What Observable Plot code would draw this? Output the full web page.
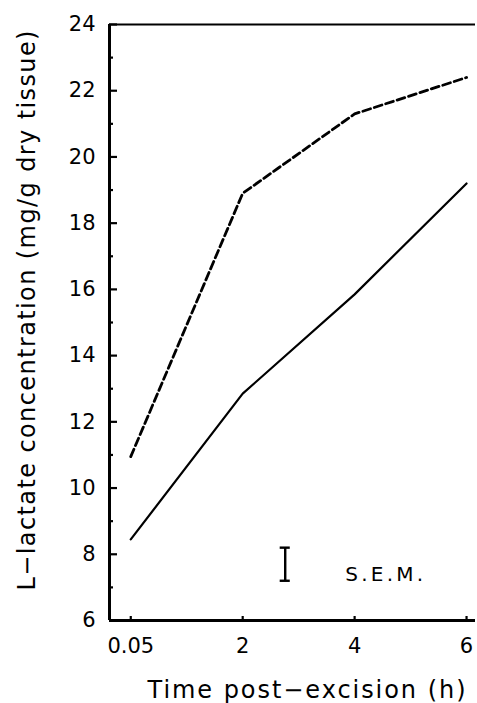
<!DOCTYPE html>
<html><head><meta charset="utf-8">
<script src="https://cdn.jsdelivr.net/npm/d3@7"></script>
<script src="https://cdn.jsdelivr.net/npm/@observablehq/plot@0.6"></script>
<style>
body{margin:0;background:#fff}
svg{display:block}
</style>
</head><body><div id="chart"></div>
<script>
// Data
const timeLabels = ["0.05", "2", "4", "6"];
const solidValues = [8.45, 12.85, 15.85, 19.2];
const dashedValues = [10.95, 18.9, 21.3, 22.4];
const yMajorTicks = [6, 8, 10, 12, 14, 16, 18, 20, 22, 24];
const yMinorTicks = [7, 9, 11, 13, 15, 17, 19, 21, 23];
const semPosition = 1.38;      // between "2" and "4" on the index axis
const semLow = 7.2;
const semHigh = 8.2;
const semCap = 0.045;
const semLabel = "S.E.M.";
const xTitle = "Time post\u2212excision (h)";
const yTitle = "L\u2212lactate concentration (mg/g dry tissue)";

const xDomain = [-0.19, 3.08];
const yDomain = [6, 24];
const idx = timeLabels.map((_, i) => i);

const solid = idx.map(i => ({x: i, y: solidValues[i]}));
const dashed = idx.map(i => ({x: i, y: dashedValues[i]}));

const chart = Plot.plot({
  width: 477,
  height: 703,
  marginLeft: 109,
  marginRight: 2,
  marginTop: 24,
  marginBottom: 83,
  style: {fontFamily: "'DejaVu Sans', sans-serif", background: "#fff", color: "#000"},
  x: {domain: xDomain, axis: null},
  y: {domain: yDomain, axis: null},
  marks: [
    // frame lines
    Plot.ruleX([xDomain[0]], {y1: yDomain[0], y2: yDomain[1], stroke: "#000", strokeWidth: 3}),
    Plot.ruleY([yDomain[0]], {stroke: "#000", strokeWidth: 3}),
    Plot.ruleY([yDomain[1]], {stroke: "#000", strokeWidth: 2.2}),
    // y ticks (inward) and labels
    Plot.axisY(yMajorTicks, {anchor: "left", tickSize: -8, strokeWidth: 2.2, fill: "none", label: null}),
    Plot.axisY(yMinorTicks, {anchor: "left", tickSize: -4, strokeWidth: 2.2, fill: "none", label: null}),
    Plot.axisY(yMajorTicks, {anchor: "left", tickSize: 0, tickPadding: 14, fontSize: 21, fill: "#000", label: null}),
    // x ticks (inward) and labels
    Plot.axisX(idx, {anchor: "bottom", tickSize: -4, strokeWidth: 2.2, fill: "none", label: null}),
    Plot.axisX(idx, {anchor: "bottom", tickSize: 0, tickPadding: 18, fontSize: 21, fill: "#000", label: null, tickFormat: i => timeLabels[i]}),
    // series
    Plot.line(dashed, {x: "x", y: "y", stroke: "#000", strokeWidth: 2.8, strokeDasharray: "8,4"}),
    Plot.line(solid, {x: "x", y: "y", stroke: "#000", strokeWidth: 2.2}),
    // S.E.M. bar
    Plot.ruleX([semPosition], {y1: semLow, y2: semHigh, stroke: "#000", strokeWidth: 2.4}),
    Plot.ruleY([semLow, semHigh], {x1: semPosition - semCap, x2: semPosition + semCap, stroke: "#000", strokeWidth: 2.4}),
    Plot.text([semLabel], {x: semPosition, y: semLow, dx: 60, textAnchor: "start", lineAnchor: "bottom", fontSize: 20, fill: "#000"}),
    // titles
    Plot.text([xTitle], {frameAnchor: "bottom", textAnchor: "middle", lineAnchor: "middle", dx: 14, dy: 70, fontSize: 24, fill: "#000"}),
    Plot.text([yTitle], {frameAnchor: "left", textAnchor: "middle", lineAnchor: "middle", rotate: -90, dx: -82, dy: -12, fontSize: 24, fill: "#000"})
  ]
});
// stretch letter spacing to match the reference's wide lettering
const spread = new Map([[xTitle, 318], [yTitle, 560], [semLabel, 78]]);
d3.select(chart).selectAll("text").each(function() {
  const len = spread.get(this.textContent);
  if (len) {
    this.setAttribute("textLength", len);
    this.setAttribute("lengthAdjust", "spacing");
  }
});
document.getElementById("chart").appendChild(chart);
</script>
</body></html>
